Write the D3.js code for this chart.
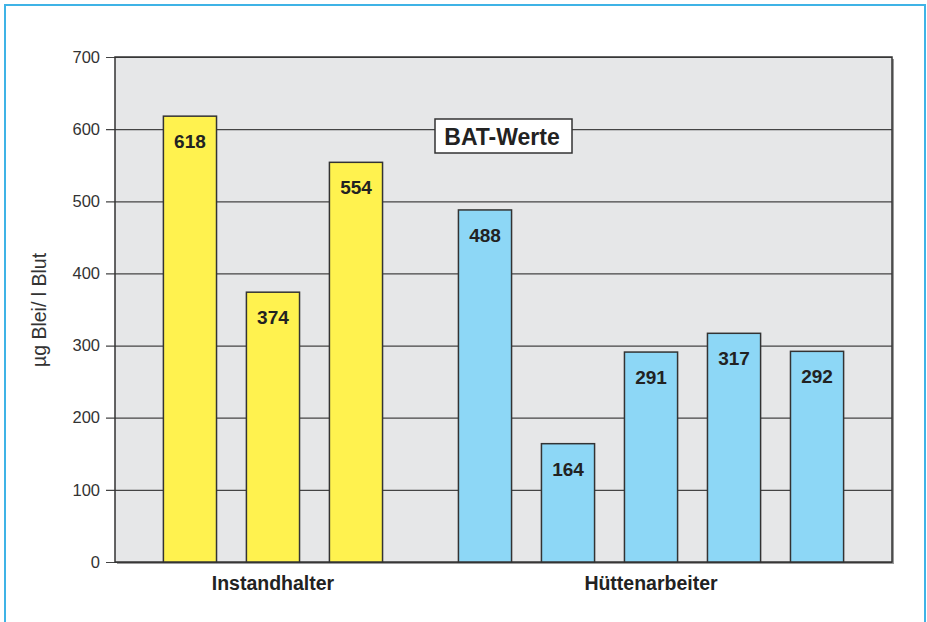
<!DOCTYPE html>
<html>
<head>
<meta charset="utf-8">
<script src="https://cdn.jsdelivr.net/npm/d3@7"></script>
<style>
  body { margin: 0; background: #fff; }
  svg { display: block; font-family: "Liberation Sans", Arial, sans-serif; }
</style>
</head>
<body>
<svg id="chart" width="927" height="622"></svg>
<script>
// data
let groups = ['Instandhalter', 'Hüttenarbeiter'];
let groupOf = ['Instandhalter', 'Instandhalter', 'Instandhalter',
               'Hüttenarbeiter', 'Hüttenarbeiter', 'Hüttenarbeiter', 'Hüttenarbeiter', 'Hüttenarbeiter'];
let values = [618, 374, 554, 488, 164, 291, 317, 292];
let yTicks = [0, 100, 200, 300, 400, 500, 600, 700];
let yTitle = 'µg Blei/ l Blut';
let title = 'BAT-Werte';

let colors = { 'Instandhalter': '#fff24f', 'Hüttenarbeiter': '#8dd7f6' };

let svg = d3.select('#chart');
let plot = { left: 115, right: 892, top: 57, bottom: 562 };
let groupGap = 46;

// outer frame
svg.append('rect')
   .attr('x', 5).attr('y', 5)
   .attr('width', 920).attr('height', 640)
   .attr('fill', 'none')
   .attr('stroke', '#3fb3e6')
   .attr('stroke-width', 2);

let bars = values.map((v, i) => ({ id: 'b' + i, value: v, group: groupOf[i] }));

let x = d3.scaleBand()
          .domain(bars.map(d => d.id))
          .range([plot.left, plot.right - groupGap])
          .paddingInner(0.36)
          .paddingOuter(0.583);

let xPos = d => x(d.id) + (d.group == groups[1] ? groupGap : 0);

let y = d3.scaleLinear().domain([0, 700]).range([plot.bottom, plot.top]);

let pw = plot.right - plot.left, ph = plot.bottom - plot.top;

// shadow + plot background
svg.append('rect')
   .attr('x', plot.left + 2).attr('y', plot.top + 2)
   .attr('width', pw).attr('height', ph)
   .attr('fill', '#9a9a9a');
svg.append('rect')
   .attr('x', plot.left).attr('y', plot.top)
   .attr('width', pw).attr('height', ph)
   .attr('fill', '#e6e7e8');

// grid + y axis
let yAxis = d3.axisLeft(y)
              .tickValues(yTicks)
              .tickSize(pw + 9)
              .tickPadding(6);

let gy = svg.append('g')
            .attr('transform', 'translate(' + plot.right + ',0)')
            .call(yAxis);
gy.select('.domain').remove();
gy.selectAll('.tick line').attr('stroke', '#444').attr('stroke-width', 1.2);
gy.selectAll('.tick text')
  .attr('font-size', 16.5)
  .attr('fill', '#333')
  .attr('font-family', '"Liberation Sans", Arial, sans-serif');

// plot border
svg.append('rect')
   .attr('x', plot.left).attr('y', plot.top)
   .attr('width', pw).attr('height', ph)
   .attr('fill', 'none')
   .attr('stroke', '#333')
   .attr('stroke-width', 1.5);

// bars
svg.selectAll('rect.bar')
   .data(bars)
   .enter()
   .append('rect')
   .classed('bar', true)
   .attr('x', d => xPos(d))
   .attr('y', d => y(d.value))
   .attr('width', x.bandwidth())
   .attr('height', d => y(0) - y(d.value))
   .attr('fill', d => colors[d.group])
   .attr('stroke', '#333')
   .attr('stroke-width', 1.5);

svg.selectAll('text.val')
   .data(bars)
   .enter()
   .append('text')
   .classed('val', true)
   .attr('x', d => xPos(d) + x.bandwidth() / 2)
   .attr('y', d => y(d.value) + 32)
   .attr('text-anchor', 'middle')
   .attr('font-size', 19)
   .attr('font-weight', 'bold')
   .attr('fill', '#222')
   .text(d => d.value);

// category labels
svg.selectAll('text.cat')
   .data(groups)
   .enter()
   .append('text')
   .classed('cat', true)
   .attr('x', g => {
       let gb = bars.filter(d => d.group == g);
       return (xPos(gb[0]) + xPos(gb[gb.length - 1]) + x.bandwidth()) / 2;
   })
   .attr('y', 590)
   .attr('text-anchor', 'middle')
   .attr('font-size', 19.5)
   .attr('font-weight', 'bold')
   .attr('fill', '#222')
   .text(g => g);

// y title
svg.append('text')
   .attr('transform', 'translate(46,310) rotate(-90)')
   .attr('text-anchor', 'middle')
   .attr('font-size', 19.5)
   .attr('fill', '#333')
   .text(yTitle);

// title box
svg.append('rect')
   .attr('x', 435).attr('y', 119)
   .attr('width', 137).attr('height', 34)
   .attr('fill', '#fff')
   .attr('stroke', '#333')
   .attr('stroke-width', 1.5);
svg.append('text')
   .attr('x', 502).attr('y', 145)
   .attr('text-anchor', 'middle')
   .attr('font-size', 23)
   .attr('font-weight', 'bold')
   .attr('fill', '#222')
   .text(title);
</script>
</body>
</html>
